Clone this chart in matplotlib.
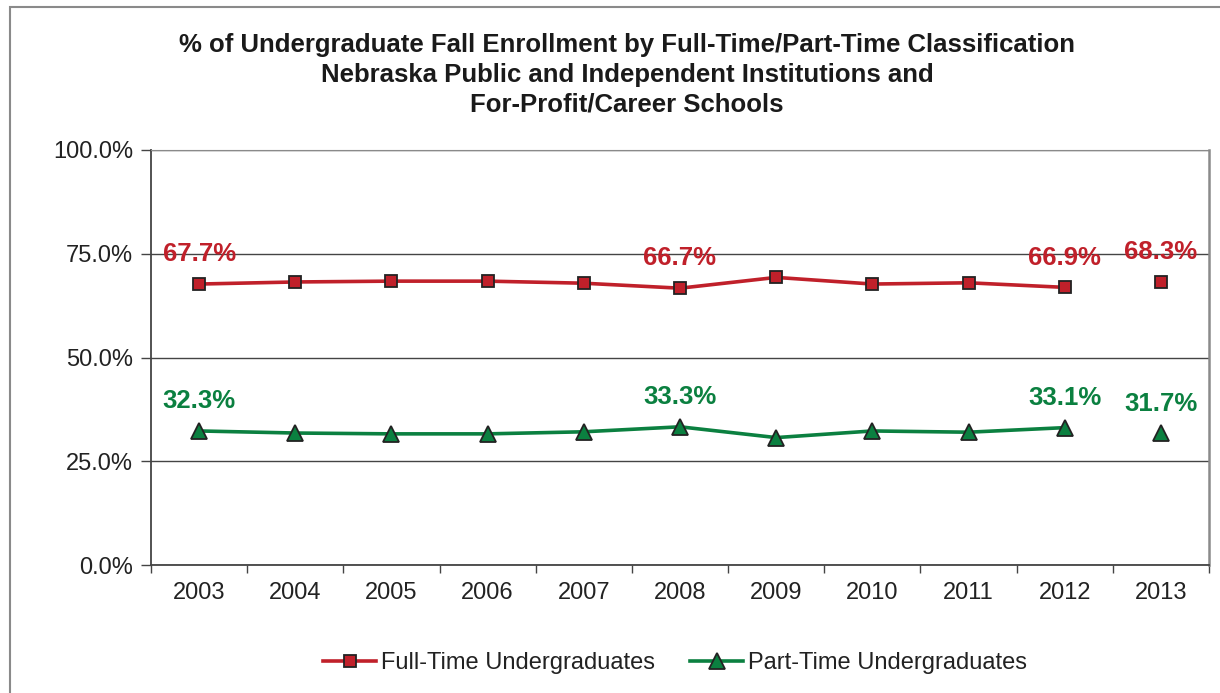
import matplotlib.pyplot as plt
import numpy as np
from matplotlib.patches import Rectangle
from matplotlib.ticker import FixedLocator, PercentFormatter

plt.rcParams['font.family'] = ['Liberation Sans', 'DejaVu Sans']

years = ['2003', '2004', '2005', '2006', '2007', '2008', '2009', '2010', '2011', '2012', '2013']
full_time = [67.7, 68.2, 68.4, 68.4, 67.9, 66.7, 69.3, 67.7, 68.0, 66.9, 68.3]
part_time = [32.3, 31.8, 31.6, 31.6, 32.1, 33.3, 30.7, 32.3, 32.0, 33.1, 31.7]
labeled = ['2003', '2008', '2012', '2013']

red = '#C0202A'
green = '#0B8040'
edge = '#222222'

fig = plt.figure(figsize=(12.2, 6.93), dpi=100)
ax = fig.add_axes([151 / 1220, 1 - 565 / 693, (1209 - 151) / 1220, (565 - 150) / 693])

# outer chart frame (only left/top visible in the reference crop)
fig.patches.append(Rectangle((10 / 1220, -0.1), 1.2, 1.1 - 7 / 693, transform=fig.transFigure,
                             fill=False, edgecolor='#8a8a8a', linewidth=1.5))

x = np.arange(len(years))
# 2003-2012 connected, 2013 standalone
ax.plot(x[:-1], full_time[:-1], color=red, lw=2.6, marker='s', ms=9,
        mfc=red, mec=edge, mew=1.3, label='Full-Time Undergraduates', zorder=3)
ax.plot(x[-1:], full_time[-1:], color=red, lw=0, marker='s', ms=9,
        mfc=red, mec=edge, mew=1.3, zorder=3)
ax.plot(x[:-1], part_time[:-1], color=green, lw=2.6, marker='^', ms=11,
        mfc=green, mec=edge, mew=1.3, label='Part-Time Undergraduates', zorder=3)
ax.plot(x[-1:], part_time[-1:], color=green, lw=0, marker='^', ms=11,
        mfc=green, mec=edge, mew=1.3, zorder=3)

for i, yr in enumerate(years):
    if yr in labeled:
        ax.annotate(f'{full_time[i]:.1f}%', (i, full_time[i]), xytext=(0, 21.5),
                    textcoords='offset points', ha='center', va='center',
                    color=red, fontsize=18.5, fontweight='bold', zorder=4)
        ax.annotate(f'{part_time[i]:.1f}%', (i, part_time[i]), xytext=(0, 21.5),
                    textcoords='offset points', ha='center', va='center',
                    color=green, fontsize=18.5, fontweight='bold', zorder=4)

ax.set_xlim(-0.5, len(years) - 0.5)
ax.set_ylim(0, 100)
ax.set_yticks([0, 25, 50, 75, 100])
ax.yaxis.set_major_formatter(PercentFormatter(decimals=1))
ax.set_xticks(x)
ax.set_xticklabels(years)
ax.xaxis.set_minor_locator(FixedLocator(np.arange(-0.5, len(years), 1)))
ax.tick_params(axis='x', which='major', length=0, pad=12, labelsize=17, labelcolor='#222222')
ax.tick_params(axis='x', which='minor', length=6, width=1, color='#444444')
ax.tick_params(axis='y', length=7, width=1, color='#444444', pad=6, labelsize=17, labelcolor='#222222')

ax.grid(axis='y', color='#444444', lw=1)
ax.set_axisbelow(True)
ax.spines['left'].set_color('#444444')
ax.spines['bottom'].set_color('#444444')
ax.spines['left'].set_linewidth(1.3)
ax.spines['bottom'].set_linewidth(1.3)
ax.spines['top'].set_color('#8a8a8a')
ax.spines['right'].set_color('#8a8a8a')
ax.spines['right'].set_linewidth(1.8)

fig.text(627 / 1220, 1 - 75 / 693,
         '% of Undergraduate Fall Enrollment by Full-Time/Part-Time Classification\n'
         'Nebraska Public and Independent Institutions and\n'
         'For-Profit/Career Schools',
         ha='center', va='center', fontsize=18.5, fontweight='bold', color='#1a1a1a',
         linespacing=1.3)

fig.legend(loc='center', bbox_to_anchor=(675 / 1220, 1 - 663 / 693), ncol=2, frameon=False,
           fontsize=17, handlelength=2.25, columnspacing=1.5, handletextpad=0.2,
           labelcolor='#222222')

fig.savefig('out.png', dpi=100)
